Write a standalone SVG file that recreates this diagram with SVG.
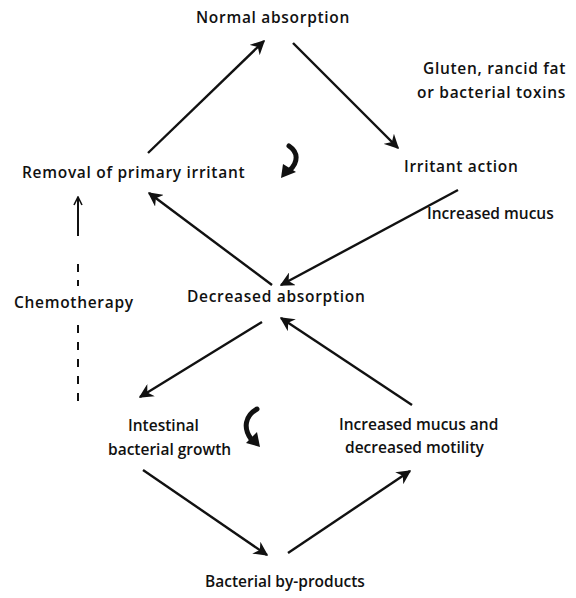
<svg xmlns="http://www.w3.org/2000/svg" width="576" height="598" viewBox="0 0 576 598">
<defs>
<style>
text{font-family:"Open Sans","DejaVu Sans",sans-serif;font-size:15.5px;font-weight:600;fill:#111;letter-spacing:0.7px}
text.s{font-size:15.5px;letter-spacing:0}
.ln{stroke:#111;stroke-width:2.4;fill:none}
.dash{stroke:#111;stroke-width:2;fill:none}
.curl{stroke:#111;stroke-width:5;fill:none;stroke-linecap:round}
</style>
<marker id="ah" viewBox="0 0 10 10" refX="9" refY="5" markerWidth="6" markerHeight="6" orient="auto" markerUnits="strokeWidth">
<path d="M0,0 L10,5 L0,10 L3,5 Z" fill="#111"/>
</marker>
<marker id="oh" viewBox="0 0 10 10" refX="9" refY="5" markerWidth="5" markerHeight="5" orient="auto" markerUnits="strokeWidth">
<path d="M1,1 L9,5 L1,9" fill="none" stroke="#111" stroke-width="1.6"/>
</marker>
</defs>
<rect width="576" height="598" fill="#fff"/>
<g id="connectors">
<line class="ln" x1="148" y1="153" x2="264" y2="41" marker-end="url(#ah)"/>
<line class="ln" x1="293" y1="43" x2="398" y2="148" marker-end="url(#ah)"/>
<line class="ln" x1="458" y1="190" x2="281" y2="285" marker-end="url(#ah)"/>
<line class="ln" x1="272" y1="285" x2="149" y2="193" marker-end="url(#ah)"/>
<line class="ln" x1="262" y1="322" x2="140" y2="397" marker-end="url(#ah)"/>
<line class="ln" x1="412" y1="405" x2="281" y2="318" marker-end="url(#ah)"/>
<line class="ln" x1="143" y1="470" x2="267" y2="555" marker-end="url(#ah)"/>
<line class="ln" x1="288" y1="553" x2="410" y2="471" marker-end="url(#ah)"/>
<path class="dash" d="M78,236 L78,197" marker-end="url(#oh)"/>
<path class="dash" d="M78,264 L78,286" style="stroke-dasharray:8 8"/>
<path class="dash" d="M78,325 L78,410" style="stroke-dasharray:8 9"/>
<g id="curl1">
<path class="curl" d="M289,146 C298,152 299,162 289,171"/>
<path d="M281,178 L283,164 L296,172 Z" fill="#111"/>
</g>
<g id="curl2">
<path class="curl" d="M257,409 C245,416 243,428 251,439"/>
<path d="M260,447 L246,443 L257,432 Z" fill="#111"/>
</g>
</g>
<g id="normal"><text x="196" y="23">Normal absorption</text></g>
<g id="gluten"><text x="423" y="74">Gluten, rancid fat</text><text x="417" y="98">or bacterial toxins</text></g>
<g id="removal"><text x="22" y="178">Removal of primary irritant</text></g>
<g id="irritant"><text x="404" y="172">Irritant action</text></g>
<g id="mucus"><text class="s" x="427" y="219">Increased mucus</text></g>
<g id="chemo"><text x="14" y="308">Chemotherapy</text></g>
<g id="decreased"><text x="187" y="302">Decreased absorption</text></g>
<g id="intestinal"><text class="s" x="128" y="431">Intestinal</text><text class="s" x="108" y="455">bacterial growth</text></g>
<g id="motility"><text class="s" x="339" y="430">Increased mucus and</text><text class="s" x="345" y="453">decreased motility</text></g>
<g id="byproducts"><text class="s" x="205" y="587">Bacterial by-products</text></g>
</svg>
